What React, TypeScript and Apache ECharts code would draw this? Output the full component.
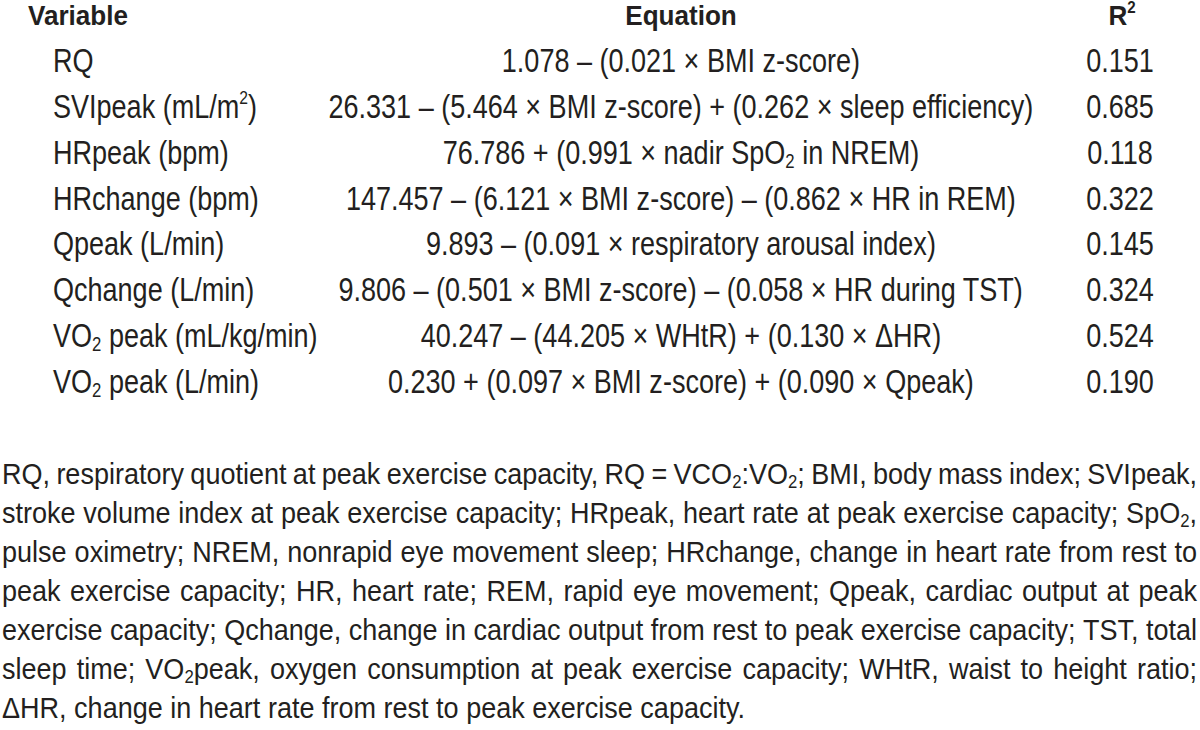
import React, { useEffect, useRef } from "react";
import * as echarts from "echarts";

// ---- table content ----
const headers = ["Variable", "Equation", "R^{2}"];
const variables = [
  "RQ",
  "SVIpeak (mL/m^{2})",
  "HRpeak (bpm)",
  "HRchange (bpm)",
  "Qpeak (L/min)",
  "Qchange (L/min)",
  "VO_{2} peak (mL/kg/min)",
  "VO_{2} peak (L/min)",
];
const equations = [
  "1.078 – (0.021 × BMI z-score)",
  "26.331 – (5.464 × BMI z-score) + (0.262 × sleep efficiency)",
  "76.786 + (0.991 × nadir SpO_{2} in NREM)",
  "147.457 – (6.121 × BMI z-score) – (0.862 × HR in REM)",
  "9.893 – (0.091 × respiratory arousal index)",
  "9.806 – (0.501 × BMI z-score) – (0.058 × HR during TST)",
  "40.247 – (44.205 × WHtR) + (0.130 × ΔHR)",
  "0.230 + (0.097 × BMI z-score) + (0.090 × Qpeak)",
];
const r2Values = ["0.151", "0.685", "0.118", "0.322", "0.145", "0.324", "0.524", "0.190"];
const footnoteLines = [
  "RQ, respiratory quotient at peak exercise capacity, RQ = VCO_{2}:VO_{2}; BMI, body mass index; SVIpeak,",
  "stroke volume index at peak exercise capacity; HRpeak, heart rate at peak exercise capacity; SpO_{2},",
  "pulse oximetry; NREM, nonrapid eye movement sleep; HRchange, change in heart rate from rest to",
  "peak exercise capacity; HR, heart rate; REM, rapid eye movement; Qpeak, cardiac output at peak",
  "exercise capacity; Qchange, change in cardiac output from rest to peak exercise capacity; TST, total",
  "sleep time; VO_{2}peak, oxygen consumption at peak exercise capacity; WHtR, waist to height ratio;",
  "ΔHR, change in heart rate from rest to peak exercise capacity.",
];

const FONT = '"Liberation Sans", Arial, sans-serif';
const COLOR = "#231f20";

type Piece = { text: string; kind: "n" | "sub" | "sup" };

function parse(s: string): Piece[] {
  const parts = s.split(/(_\{[^}]*\}|\^\{[^}]*\})/).filter((p) => p.length > 0);
  return parts.map((p) => {
    if (p.startsWith("_{")) return { text: p.slice(2, -1), kind: "sub" as const };
    if (p.startsWith("^{")) return { text: p.slice(2, -1), kind: "sup" as const };
    return { text: p, kind: "n" as const };
  });
}

let ctx: CanvasRenderingContext2D | null = null;
function measure(text: string, size: number, weight: string): number {
  if (!ctx) ctx = document.createElement("canvas").getContext("2d");
  ctx!.font = `${weight} ${size}px ${FONT}`;
  return ctx!.measureText(text).width;
}

function pieceMetrics(p: Piece, size: number) {
  if (p.kind === "sub") return { size: size * 0.62, dy: size * 0.13 };
  if (p.kind === "sup") return { size: size * 0.58, dy: -size * 0.42 };
  return { size, dy: 0 };
}

function markupWidth(s: string, size: number, weight: string, scale: number): number {
  return parse(s).reduce((acc, p) => acc + measure(p.text, pieceMetrics(p, size).size, weight) * scale, 0);
}

function renderMarkup(
  s: string,
  x: number,
  baseline: number,
  size: number,
  weight: string,
  scale: number,
  out: any[]
) {
  let cx = x;
  for (const p of parse(s)) {
    const m = pieceMetrics(p, size);
    const w = measure(p.text, m.size, weight) * scale;
    out.push({
      type: "text",
      x: cx,
      y: baseline + m.dy - 0.3465 * m.size,
      scaleX: scale,
      silent: true,
      style: {
        text: p.text,
        fontSize: m.size,
        fontFamily: FONT,
        fontWeight: weight,
        fill: COLOR,
        align: "left",
        verticalAlign: "middle",
      },
    });
    cx += w;
  }
  return cx;
}

function buildElements(): any[] {
  const els: any[] = [];
  // header
  const hSize = 28;
  const hScale = 100 / measure("Variable", hSize, "bold");
  const hBase = 25;
  renderMarkup(headers[0], 28, hBase, hSize, "bold", hScale, els);
  const eqW = markupWidth(headers[1], hSize, "bold", hScale);
  renderMarkup(headers[1], 681 - eqW / 2, hBase, hSize, "bold", hScale, els);
  const rW = markupWidth(headers[2], hSize, "bold", hScale);
  renderMarkup(headers[2], 1122 - rW / 2, hBase, hSize, "bold", hScale, els);

  // body rows
  const bSize = 33;
  const bScale = 705 / markupWidth(equations[1], bSize, "normal", 1);
  const rowBase0 = 72;
  const rowStep = 45.85;
  variables.forEach((v, i) => {
    const base = rowBase0 + rowStep * i;
    renderMarkup(v, 53, base, bSize, "normal", bScale, els);
    const ew = markupWidth(equations[i], bSize, "normal", bScale);
    renderMarkup(equations[i], 681 - ew / 2, base, bSize, "normal", bScale, els);
    const rw = markupWidth(r2Values[i], bSize, "normal", bScale);
    renderMarkup(r2Values[i], 1120 - rw / 2, base, bSize, "normal", bScale, els);
  });

  // footnote, justified
  const fSize = 29;
  const last = footnoteLines[footnoteLines.length - 1];
  const fScale = 743 / markupWidth(last, fSize, "normal", 1);
  const left = 2;
  const right = 1197;
  const fBase0 = 484;
  const fStep = 39;
  footnoteLines.forEach((line, i) => {
    const base = fBase0 + fStep * i;
    const words = line.split(" ");
    const widths = words.map((w) => markupWidth(w, fSize, "normal", fScale));
    const isLast = i === footnoteLines.length - 1;
    const total = widths.reduce((a, b) => a + b, 0);
    const gap = isLast
      ? measure(" ", fSize, "normal") * fScale
      : (right - left - total) / (words.length - 1);
    let cx = left;
    words.forEach((w, k) => {
      renderMarkup(w, cx, base, fSize, "normal", fScale, els);
      cx += widths[k] + gap;
    });
  });
  return els;
}

export default function App() {
  const ref = useRef<HTMLDivElement>(null);
  useEffect(() => {
    if (!ref.current) return;
    const chart = echarts.init(ref.current, undefined, { renderer: "svg" });
    chart.setOption({
      animation: false,
      backgroundColor: "#ffffff",
      graphic: { elements: buildElements() },
    });
    return () => chart.dispose();
  }, []);
  return (
    <div
      ref={ref}
      style={{ position: "fixed", left: 0, top: 0, width: 1200, height: 730, background: "#fff" }}
    />
  );
}
